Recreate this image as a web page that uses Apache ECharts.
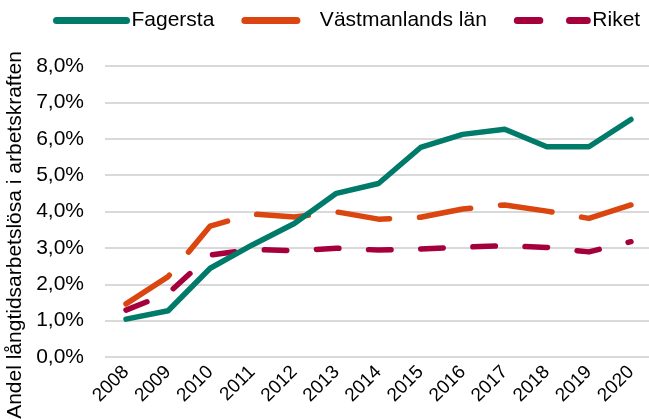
<!DOCTYPE html>
<html>
<head>
<meta charset="utf-8">
<script src="https://cdn.jsdelivr.net/npm/echarts@6/dist/echarts.min.js"></script>
<style>
  html, body { margin: 0; padding: 0; background: #fff; }
  #chart { width: 649px; height: 419px; }
</style>
</head>
<body>
<div id="chart"></div>
<script>
const years = ['2008', '2009', '2010', '2011', '2012', '2013', '2014', '2015', '2016', '2017', '2018', '2019', '2020']
const fagersta = [1.04, 1.27, 2.44, 3.08, 3.67, 4.5, 4.77, 5.76, 6.12, 6.26, 5.78, 5.78, 6.53]
const vastmanland = [1.46, 2.21, 3.6, 3.93, 3.85, 3.99, 3.79, 3.84, 4.07, 4.18, 4.01, 3.81, 4.18]
const riket = [1.29, 1.75, 2.8, 2.96, 2.92, 2.99, 2.94, 2.97, 3.02, 3.06, 3.01, 2.89, 3.17]

const font = 'Liberation Sans'
const chart = echarts.init(document.getElementById('chart'))

function pct(v) {
  return v.toFixed(1).replace('.', ',') + '%'
}

chart.setOption({
  animation: false,
  textStyle: { fontFamily: font },
  grid: {
    left: 105,
    right: -3,
    top: 66,
    bottom: 62,
    containLabel: false,
    outerBoundsMode: 'none',
  },
  legend: {
    top: 10,
    left: 53,
    padding: 0,
    itemWidth: 70,
    itemHeight: 22,
    itemGap: 27,
    itemStyle: { opacity: 0 },
    lineStyle: { width: 7, cap: 'round' },
    textStyle: { fontSize: 21, color: '#000', fontFamily: font },
    data: ['Fagersta', 'Västmanlands län', 'Riket'],
  },
  xAxis: {
    type: 'category',
    data: years,
    boundaryGap: true,
    axisLine: { show: false },
    axisTick: { show: false },
    axisLabel: {
      rotate: 45,
      fontSize: 19,
      color: '#000',
      margin: 12,
      interval: 0,
    },
  },
  yAxis: {
    type: 'value',
    min: 0,
    max: 8,
    interval: 1,
    name: 'Andel långtidsarbetslösa i arbetskraften',
    nameLocation: 'middle',
    nameGap: 76,
    nameTextStyle: { fontSize: 21, color: '#000', fontFamily: font, padding: [0, 47, 0, 0] },
    axisLabel: {
      fontSize: 21,
      color: '#000',
      margin: 21,
      formatter: pct,
    },
    splitLine: { lineStyle: { color: '#d9d9d9', width: 2 } },
  },
  series: [
    {
      name: 'Fagersta',
      type: 'line',
      data: fagersta,
      symbol: 'none',
      z: 3,
      lineStyle: { color: '#007b69', width: 5.5, cap: 'round', join: 'round' },
      itemStyle: { color: '#007b69' },
    },
    {
      name: 'Västmanlands län',
      type: 'line',
      data: vastmanland,
      symbol: 'none',
      z: 2,
      lineStyle: { color: '#da4510', width: 5.5, type: [52, 30], cap: 'round', join: 'round' },
      itemStyle: { color: '#da4510' },
    },
    {
      name: 'Riket',
      type: 'line',
      data: riket,
      symbol: 'none',
      z: 1,
      lineStyle: { color: '#a5003c', width: 5.5, type: [22.5, 29.7], cap: 'round', join: 'round' },
      itemStyle: { color: '#a5003c' },
    },
  ],
})
</script>
</body>
</html>
